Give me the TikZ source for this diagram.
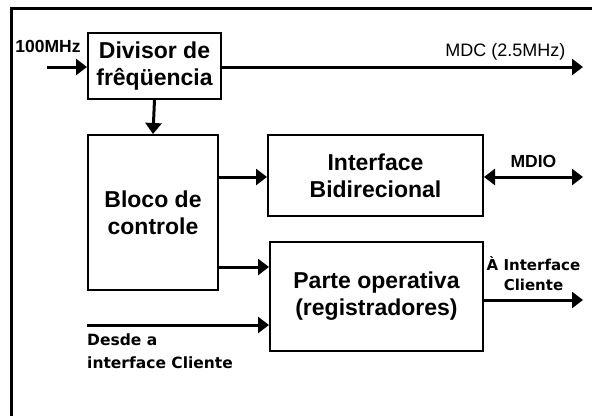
\documentclass[tikz,border=0pt]{standalone}
\usepackage{fontspec}
\setmainfont{Liberation Sans}
\newfontfamily\lblfont{DejaVu Sans}
\usetikzlibrary{arrows.meta, positioning, calc}

\begin{document}
\begin{tikzpicture}[x=1pt, y=-1pt,
    blk/.style={draw, line width=2pt, align=center, inner sep=0pt,
                font=\fontsize{23}{27}\selectfont\bfseries},
    sig/.style={line width=3pt, -{Triangle[length=11pt, width=16pt]}},
    bisig/.style={line width=3pt, {Triangle[length=11pt, width=16pt]}-{Triangle[length=11pt, width=16pt]}},
    lbl/.style={inner sep=0pt, font=\fontsize{17.5}{20}\selectfont\bfseries},
    clbl/.style={inner sep=0pt, font=\lblfont\fontsize{15}{20}\selectfont\bfseries}]
  \useasboundingbox (0,0) rectangle (592,416);
  % frame
  \draw[line width=3pt] (592,8) -- (11,8) -- (11,416);

  % blocks
  \node[blk, minimum width=133pt, minimum height=66pt] (div) at (154.5,66) {Divisor de\\frêqüencia};
  \node[blk, minimum width=130pt, minimum height=155pt] (ctl) at (153,212.5) {Bloco de\\controle};
  \node[blk, minimum width=215pt, minimum height=81pt]  (ifc) at (375.5,175.5) {Interface\\Bidirecional};
  \node[blk, minimum width=213pt, minimum height=109pt] (op)  at (376.5,296.5) {Parte operativa\\(registradores)};

  % free ends
  \coordinate (clk) at (47,67);
  \coordinate (mdc) at (583,67);
  \coordinate (mdio) at (583,177);
  \coordinate (cout) at (583,300);
  \coordinate (cin) at (87,325);
  \coordinate (opa) at ($(op.west)+(0,-29.5)$);
  \coordinate (opb) at ($(op.west)+(0,28.5)$);

  % signals
  \draw[sig] (clk) -- (clk -| div.west);
  \node[lbl, above=14pt of clk, xshift=1pt] (clkl) {100MHz};
  \draw[sig] (mdc -| div.east) -- (mdc)
    node[pos=0.785, above=5pt, inner sep=0pt, font=\fontsize{18}{20}\selectfont] (mdcl) {MDC (2.5MHz)};
  \draw[sig] (div.south) -- (ctl.north);
  \draw[sig] (ctl.east |- mdio) -- (ifc.west |- mdio);
  \draw[sig] (ctl.east |- opa) -- (opa);
  \draw[sig] (cin) -- (opb);
  \node[clbl, align=left, anchor=north west, font=\lblfont\fontsize{15.5}{23}\selectfont\bfseries]
    (cinl) at ($(cin)+(0,9)$) {Desde a\\interface Cliente};
  \draw[bisig] (ifc.east |- mdio) -- (mdio)
    node[midway, above=8pt, lbl] (mdiol) {MDIO};
  \draw[sig] (op.east |- cout) -- (cout)
    node[midway, above=8pt, clbl, align=center] (coutl) {À Interface\\Cliente};
\end{tikzpicture}
\end{document}
